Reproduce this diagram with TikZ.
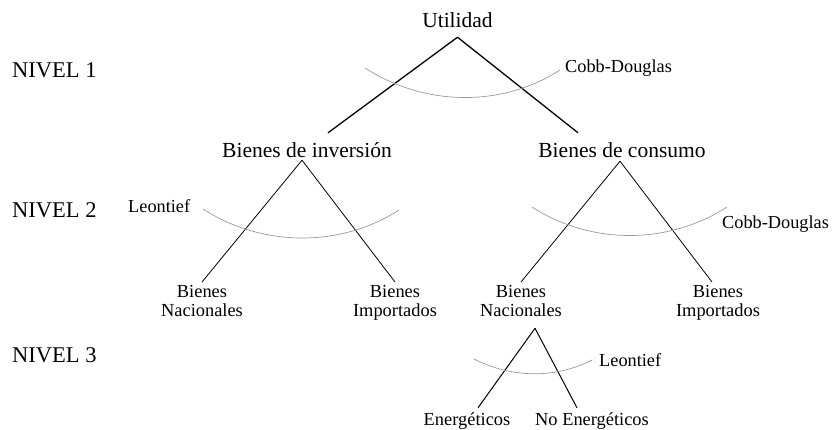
\documentclass[tikz,border=0pt]{standalone}
\usepackage{fontspec}
\setmainfont{Liberation Serif}
\usetikzlibrary{calc}

\begin{document}
\begin{tikzpicture} [x=1pt, y=-1pt, inner sep=0pt,
  nivel/.style={anchor=base west, font=\fontsize{22.5}{26}\selectfont},
  bien/.style={anchor=base, text height=15pt, text depth=4pt, font=\fontsize{21.5}{24}\selectfont},
  hoja/.style={anchor=north, align=center, font=\fontsize{18.4}{19}\selectfont},
  hojab/.style={anchor=base, text height=13pt, text depth=4pt, font=\fontsize{18.4}{19}\selectfont},
  func/.style={anchor=base west, font=\fontsize{18.3}{20}\selectfont},
  rama/.style={black, line width=1.3pt},
  ramita/.style={black, line width=.8pt},
  curva/.style={gray!80, line width=.7pt}]
\useasboundingbox (0,0) rectangle (833,429);
\node[nivel] (n1) at (12,77) {NIVEL 1};
\node[nivel] (n2) at (12,217) {NIVEL 2};
\node[nivel] (n3) at (12,362) {NIVEL 3};
\node[bien] (util) at (457.5,27) {Utilidad};
\node[bien] (inv) at (307,157) {Bienes de inversión};
\node[bien] (cons) at (622,157) {Bienes de consumo};
\node[hoja] (nacI) at (202,285.5) {Bienes\\Nacionales};
\node[hoja] (impI) at (395,285.5) {Bienes\\Importados};
\node[hoja] (nacC) at (521,285.5) {Bienes\\Nacionales};
\node[hoja] (impC) at (718,285.5) {Bienes\\Importados};
\node[hojab] (energ) at (467,425) {Energéticos};
\node[hojab] (noenerg) at (592,425) {No Energéticos};
\node[func] (cd1) at (565,72) {Cobb-Douglas};
\node[func] (leo2) at (128,212) {Leontief};
\node[func] (cd2) at (722,228) {Cobb-Douglas};
\node[func] (leo3) at (599,366) {Leontief};
\draw[rama] ([yshift=-6pt]util.south) -- ([xshift=21pt, yshift=9pt]inv.north);
\draw[rama] ([yshift=-6pt]util.south) -- ([xshift=-44pt, yshift=9pt]cons.north);
\draw[ramita] ([xshift=-5pt, yshift=1pt]inv.south) -- ([yshift=3.5pt]nacI.north);
\draw[ramita] ([xshift=-5pt, yshift=1pt]inv.south) -- ([yshift=3.5pt]impI.north);
\draw[ramita] ([xshift=-2pt]cons.south) -- ([yshift=3.5pt]nacC.north);
\draw[ramita] ([xshift=-2pt]cons.south) -- ([xshift=-6pt, yshift=3.5pt]impC.north);
\draw[ramita, line width=1pt] ([xshift=14pt, yshift=-11pt]nacC.south) -- ([xshift=11pt, yshift=4pt]energ.north);
\draw[ramita, line width=1pt] ([xshift=14pt, yshift=-11pt]nacC.south) -- ([xshift=-15pt, yshift=4pt]noenerg.north);
\draw[curva] (365,68) .. controls +(59,38) and +(-59,38) .. (560,70);
\draw[curva] (203,209) .. controls +(59,38) and +(-59,38) .. (399,210);
\draw[curva] (532,207) .. controls +(59,38) and +(-59,38) .. (727,207);
\draw[curva] (474,359) .. controls +(37,19) and +(-37,19) .. (592,360);
\end{tikzpicture}
\end{document}
